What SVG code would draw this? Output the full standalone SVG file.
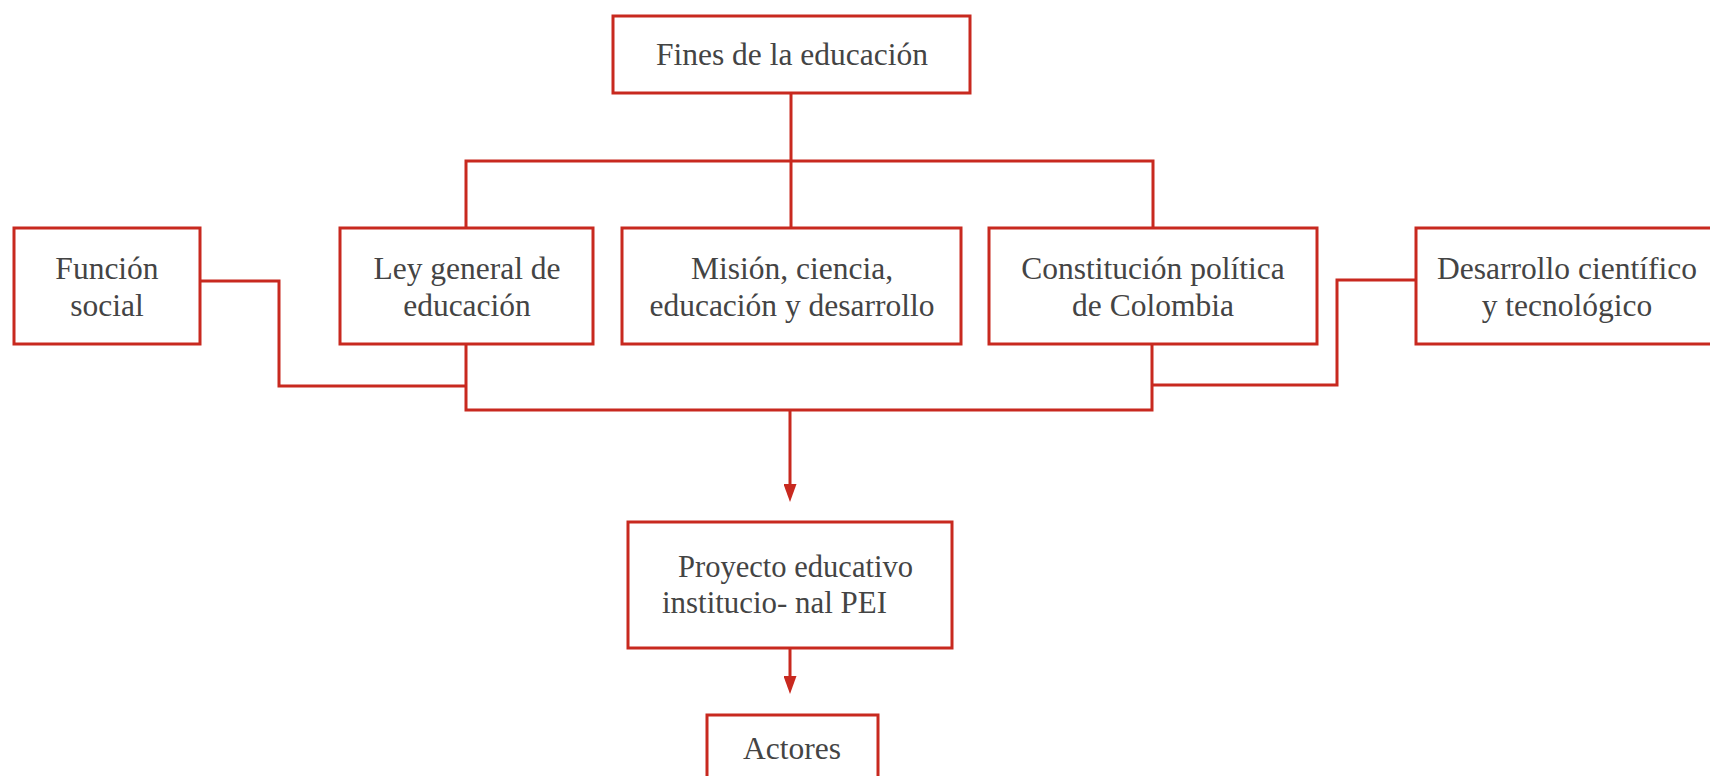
<svg xmlns="http://www.w3.org/2000/svg" width="1710" height="776" viewBox="0 0 1710 776">
<style>
.box{fill:#fff;stroke:#c8291f;stroke-width:3}
.ln{fill:none;stroke:#c8291f;stroke-width:3}
.t{font-family:"Liberation Serif","Times New Roman",serif;font-size:31.5px;fill:#444;text-anchor:middle}
.ts{font-family:"Liberation Serif","Times New Roman",serif;font-size:31.5px;fill:#444;text-anchor:start}
</style>
<defs>
<marker id="arr" markerUnits="userSpaceOnUse" markerWidth="18" markerHeight="13" viewBox="0 0 18 13" refX="6" refY="6.5" orient="auto">
<path d="M0,0 L18,6.5 L0,13 z" fill="#c8291f"/>
</marker>
</defs>
<rect width="1710" height="776" fill="#fff"/>
<g id="connectors">
<path class="ln" d="M791,93 V161"/>
<path class="ln" d="M466,228 V161 H1153 V228"/>
<path class="ln" d="M791,161 V228"/>
<path class="ln" d="M200,281 H279 V386 H466"/>
<path class="ln" d="M466,344 V410 H1152 V344"/>
<path class="ln" d="M1416,280 H1337 V385 H1152"/>
<path class="ln" d="M790,410 V490" marker-end="url(#arr)"/>
<path class="ln" d="M790,648 V682" marker-end="url(#arr)"/>
</g>
<g id="fines">
<rect class="box" x="613" y="16" width="357" height="77"/>
<text class="t" x="792" y="65">Fines de la educación</text>
</g>
<g id="funcion">
<rect class="box" x="14" y="228" width="186" height="116"/>
<text class="t" x="107" y="279">Función</text>
<text class="t" x="107" y="316">social</text>
</g>
<g id="ley">
<rect class="box" x="340" y="228" width="253" height="116"/>
<text class="t" x="467" y="279">Ley general de</text>
<text class="t" x="467" y="316">educación</text>
</g>
<g id="mision">
<rect class="box" x="622" y="228" width="339" height="116"/>
<text class="t" x="792" y="279">Misión, ciencia,</text>
<text class="t" x="792" y="316">educación y desarrollo</text>
</g>
<g id="constitucion">
<rect class="box" x="989" y="228" width="328" height="116"/>
<text class="t" x="1153" y="279">Constitución política</text>
<text class="t" x="1153" y="316">de Colombia</text>
</g>
<g id="desarrollo">
<rect class="box" x="1416" y="228" width="300" height="116"/>
<text class="t" x="1567" y="279">Desarrollo científico</text>
<text class="t" x="1567" y="316">y tecnológico</text>
</g>
<g id="pei">
<rect class="box" x="628" y="522" width="324" height="126"/>
<text class="ts" x="678" y="577" textLength="235" lengthAdjust="spacingAndGlyphs">Proyecto educativo</text>
<text class="ts" x="662" y="613" textLength="225" lengthAdjust="spacingAndGlyphs">institucio- nal PEI</text>
</g>
<g id="actores">
<rect class="box" x="707" y="715" width="171" height="80"/>
<text class="t" x="792" y="759">Actores</text>
</g>
</svg>
